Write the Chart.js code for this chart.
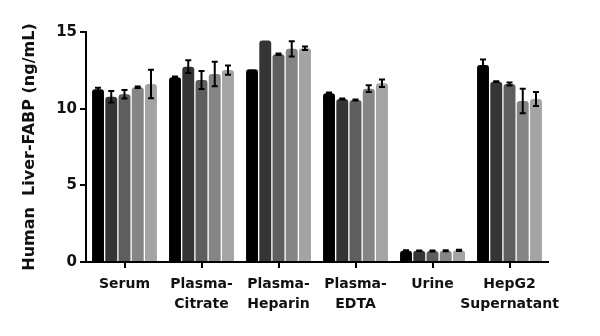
<!DOCTYPE html>
<html>
<head>
<meta charset="utf-8">
<script src="https://cdn.jsdelivr.net/npm/chart.js@4"></script>
<style>
    html, body { margin: 0; padding: 0; background: #ffffff; }
    #wrap { width: 600px; height: 336px; }
</style>
</head>
<body>
<div id="wrap"><canvas id="chart" width="600" height="336"></canvas></div>
<script>
    const categories = [
        "Serum",
        ["Plasma-", "Citrate"],
        ["Plasma-", "Heparin"],
        ["Plasma-", "EDTA"],
        "Urine",
        ["HepG2", "Supernatant"]
    ];

    // five replicate samples per matrix
    const sample1 = [11.26, 12.05, 12.57, 11.0, 0.74, 12.85];
    const sample2 = [10.78, 12.74, 14.44, 10.63, 0.73, 11.76];
    const sample3 = [10.94, 11.87, 13.55, 10.57, 0.72, 11.61];
    const sample4 = [11.39, 12.26, 13.9, 11.3, 0.73, 10.5];
    const sample5 = [11.61, 12.52, 13.94, 11.66, 0.76, 10.63];

    const err1 = [0.1, 0.05, 0, 0.05, 0.02, 0.35];
    const err2 = [0.37, 0.42, 0, 0.03, 0.02, 0.02];
    const err3 = [0.28, 0.58, 0.05, 0.03, 0.03, 0.1];
    const err4 = [0.05, 0.8, 0.5, 0.22, 0.03, 0.8];
    const err5 = [0.93, 0.3, 0.12, 0.25, 0.04, 0.45];

    const yTicks = [0, 5, 10, 15];

    const barColors = ["#000000", "#353535", "#5e5e5e", "#858585", "#a4a4a4"];

    const font = "'DejaVu Sans', sans-serif";

    const errorBars = {
        id: "errorBars",
        afterDatasetsDraw(chart) {
            const { ctx, scales } = chart;
            ctx.save();
            ctx.strokeStyle = "#000000";
            ctx.lineWidth = 2;
            chart.data.datasets.forEach((ds, i) => {
                const meta = chart.getDatasetMeta(i);
                meta.data.forEach((bar, j) => {
                    const e = ds.errors[j];
                    if (!e) {
                        return;
                    }
                    const top = scales.y.getPixelForValue(ds.data[j] + e);
                    const bottom = scales.y.getPixelForValue(ds.data[j] - e);
                    ctx.beginPath();
                    ctx.moveTo(bar.x, top);
                    ctx.lineTo(bar.x, bottom);
                    ctx.moveTo(bar.x - 3, top);
                    ctx.lineTo(bar.x + 3, top);
                    ctx.moveTo(bar.x - 3, bottom);
                    ctx.lineTo(bar.x + 3, bottom);
                    ctx.stroke();
                });
            });
            ctx.restore();
        }
    };

    const values = [sample1, sample2, sample3, sample4, sample5];
    const errors = [err1, err2, err3, err4, err5];

    new Chart(document.getElementById("chart"), {
        type: "bar",
        data: {
            labels: categories,
            datasets: values.map((v, i) => ({
                label: "Sample " + (i + 1),
                data: v,
                errors: errors[i],
                backgroundColor: barColors[i],
                borderRadius: { topLeft: 3, topRight: 3 },
                borderSkipped: "bottom",
                categoryPercentage: 0.86,
                barPercentage: 0.9
            }))
        },
        options: {
            responsive: false,
            animation: false,
            layout: {
                padding: { top: 32, right: 52, bottom: 0, left: 0 }
            },
            plugins: {
                legend: { display: false },
                tooltip: { enabled: false }
            },
            scales: {
                x: {
                    afterFit: (scale) => { scale.height = 74; },
                    border: { display: true, color: "#000000", width: 2 },
                    grid: {
                        offset: false,
                        drawOnChartArea: false,
                        drawTicks: true,
                        tickLength: 6,
                        color: "#000000",
                        lineWidth: 2
                    },
                    ticks: {
                        color: "#111111",
                        padding: 6,
                        maxRotation: 0,
                        autoSkip: false,
                        font: { family: font, size: 14, weight: "bold", lineHeight: 1.45 }
                    }
                },
                y: {
                    min: 0,
                    max: 15,
                    afterFit: (scale) => { scale.width = 86; },
                    afterBuildTicks: (scale) => {
                        scale.ticks = yTicks.map((v) => ({ value: v }));
                    },
                    border: { display: true, color: "#000000", width: 2 },
                    grid: {
                        drawOnChartArea: false,
                        drawTicks: true,
                        tickLength: 6,
                        color: "#000000",
                        lineWidth: 2
                    },
                    ticks: {
                        color: "#111111",
                        padding: 3,
                        font: { family: font, size: 15, weight: "bold" }
                    },
                    title: {
                        display: true,
                        text: "Human  Liver-FABP (ng/mL)",
                        color: "#111111",
                        padding: { top: 20, bottom: 0 },
                        font: { family: font, size: 16, weight: "bold", lineHeight: 1.2 }
                    }
                }
            }
        },
        plugins: [errorBars]
    });
</script>
</body>
</html>
